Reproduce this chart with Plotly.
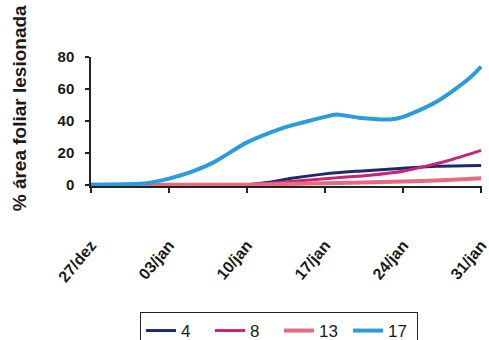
import plotly.graph_objects as go

# Disease progress: % leaf area with lesions, per treatment series
dates_17 = ["2023-12-27", "2023-12-30", "2024-01-01", "2024-01-03", "2024-01-05", "2024-01-07",
            "2024-01-10", "2024-01-13", "2024-01-15", "2024-01-17", "2024-01-18", "2024-01-20",
            "2024-01-23", "2024-01-24", "2024-01-27", "2024-01-30", "2024-01-31"]
vals_17 = [0, 0.3, 1, 3.8, 8, 14, 26.5, 35, 39, 42.5, 44, 42, 41, 42.5, 52, 67, 74]

dates_4 = ["2023-12-27", "2024-01-03", "2024-01-10", "2024-01-12", "2024-01-14", "2024-01-17",
           "2024-01-20", "2024-01-24", "2024-01-27", "2024-01-31"]
vals_4 = [0, 0, 0, 1.5, 4, 6.8, 8.5, 10.3, 11.5, 12]

dates_8 = ["2023-12-27", "2024-01-03", "2024-01-10", "2024-01-13", "2024-01-17", "2024-01-21",
           "2024-01-24", "2024-01-26", "2024-01-28", "2024-01-31"]
vals_8 = [0, 0, 0, 1.5, 3.8, 6, 8.5, 11.5, 15, 21.5]

dates_13 = ["2023-12-27", "2024-01-03", "2024-01-10", "2024-01-17", "2024-01-24", "2024-01-28",
            "2024-01-31"]
vals_13 = [0, 0, 0, 1, 2, 3, 4]

tick_vals = ["2023-12-27", "2024-01-03", "2024-01-10", "2024-01-17", "2024-01-24", "2024-01-31"]
tick_text = ["27/dez", "03/jan", "10/jan", "17/jan", "24/jan", "31/jan"]

series = [
    ("4", dates_4, vals_4, "#1c2a6b", 3),
    ("8", dates_8, vals_8, "#c4267a", 3),
    ("13", dates_13, vals_13, "#e66b7e", 4),
    ("17", dates_17, vals_17, "#2b9be0", 4),
]

fig = go.Figure()
for name, xs, ys, color, width in series:
    fig.add_trace(go.Scatter(
        x=xs, y=ys, name=name, mode="lines",
        line=dict(color=color, width=width, shape="spline", smoothing=0.8),
    ))

font_family = "Liberation Sans, Arial, sans-serif"

fig.update_layout(
    width=489, height=340,
    margin=dict(l=91, r=0, t=57, b=154),
    paper_bgcolor="white", plot_bgcolor="white",
    font=dict(family=font_family, color="#1a1a1a"),
    showlegend=True,
    legend=dict(
        orientation="h",
        xref="container", yref="container",
        x=279 / 489, xanchor="center",
        y=(340 - 312) / 340, yanchor="top",
        bordercolor="#222", borderwidth=1,
        font=dict(size=17, color="#1a1a1a"),
        itemwidth=30, tracegroupgap=0,
        entrywidth=24, entrywidthmode="pixels",
    ),
    xaxis=dict(
        type="date",
        range=["2023-12-27", "2024-01-31 02:00"],
        tickvals=tick_vals, ticktext=tick_text,
        tickangle=-50,
        ticks="outside", ticklen=5, tickcolor="#222", tickwidth=1.5,
        showline=True, linecolor="#222", linewidth=1.5,
        showgrid=False, zeroline=False,
        tickfont=dict(size=16, family=font_family, weight="bold", color="#1a1a1a"),
        ticklabelstandoff=37,
        ticklabeloverflow="allow",
    ),
    yaxis=dict(
        range=[-0.8, 80],
        tickvals=[0, 20, 40, 60, 80],
        ticks="outside", ticklen=4, tickcolor="#222", tickwidth=1.5,
        showline=True, linecolor="#222", linewidth=1.5,
        showgrid=False, zeroline=False,
        tickfont=dict(size=15, family=font_family, weight="bold", color="#1a1a1a"),
        ticklabelstandoff=8,
    ),
    annotations=[dict(
        text="<b>% área foliar lesionada</b>",
        xref="paper", yref="paper",
        x=-73 / 398, y=(340 - 108 - 154) / 129,
        xanchor="center", yanchor="middle",
        textangle=-90, showarrow=False,
        font=dict(size=19, family=font_family, color="#1a1a1a"),
    )],
)

fig.write_html("out.html")
